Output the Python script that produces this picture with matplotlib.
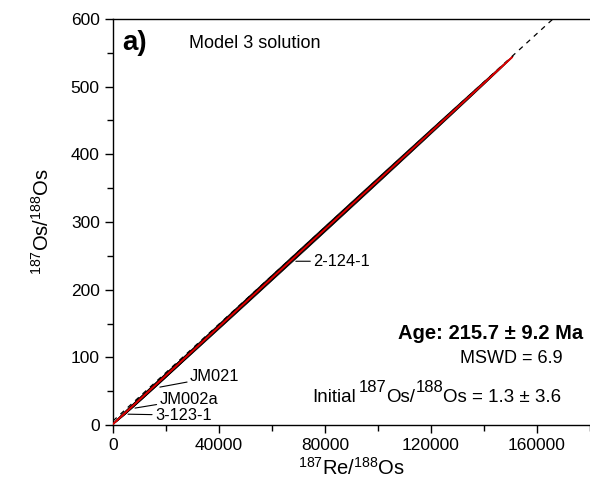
import numpy as np
import matplotlib
matplotlib.use("Agg")
import matplotlib.pyplot as plt
from matplotlib.patches import Polygon
from matplotlib.ticker import MultipleLocator
from matplotlib.transforms import IdentityTransform

plt.rcParams['font.family'] = ['Liberation Sans', 'DejaVu Sans']
plt.rcParams['mathtext.fontset'] = 'custom'
plt.rcParams['mathtext.rm'] = 'Liberation Sans'
plt.rcParams['mathtext.it'] = 'Liberation Sans:italic'
plt.rcParams['mathtext.bf'] = 'Liberation Sans:bold'

# Sample data: 187Re/188Os, 187Os/188Os with 2-sigma errors and error correlation
samples = ["3-123-1", "JM002a", "JM021", "2-124-1"]
re_os = [5300, 9000, 17700, 75500]
re_os_err = [5000, 8500, 16500, 75500]
os_os = [20.4, 33.7, 65.0, 273.1]
os_os_err = [18.1, 30.7, 59.5, 271.9]
rho = [0.995, 0.997, 0.9985, 0.99988]

# Regression (Model 3)
age_ma = 215.7
intercept = 1.3
lam = 1.666e-11
slope = np.exp(lam * age_ma * 1e6) - 1.0
fit_x_max = 150500

# Dashed reference line
dash_intercept = 6.0
dash_slope = 0.003578

# Label anchor points and label positions
label_xy = [(5660, 16), (8300, 25), (17700, 56), (69000, 242)]
label_txt = [(15800, 14.5), (17500, 38), (29000, 71), (75500, 242)]

fig = plt.figure(figsize=(5.90, 4.87), dpi=100)
ax = fig.add_axes([0.1915, 0.1273, 0.8085, 0.8337])

xx = np.linspace(0, 180000, 200)
ax.plot(xx, dash_intercept + dash_slope * xx, ls=(0, (4, 4)), color='black', lw=0.9, zorder=1)

t = np.linspace(0, 2 * np.pi, 400)
for x0, sx, y0, sy, r in zip(re_os, re_os_err, os_os, os_os_err, rho):
    ex = x0 + sx * np.cos(t)
    ey = y0 + sy * (r * np.cos(t) + np.sqrt(1 - r * r) * np.sin(t))
    ax.add_patch(Polygon(np.column_stack([ex, ey]), closed=True, facecolor='black',
                         edgecolor='black', lw=0.5, zorder=2))

fx = np.array([0, fit_x_max])
ax.plot(fx, intercept + slope * fx, color='#e00000', lw=1.4, zorder=3)

for name, xy, txy in zip(samples, label_xy, label_txt):
    ax.annotate(name, xy=xy, xytext=txy, fontsize=11.8, va='center', ha='left',
                arrowprops=dict(arrowstyle='-', color='black', lw=0.8,
                                shrinkA=0, shrinkB=0))

ax.set_xlim(0, 180000)
ax.set_ylim(0, 600)
ax.xaxis.set_major_locator(MultipleLocator(40000))
ax.xaxis.set_minor_locator(MultipleLocator(20000))
ax.yaxis.set_major_locator(MultipleLocator(100))
ax.yaxis.set_minor_locator(MultipleLocator(50))
ax.tick_params(which='both', direction='out', top=False, right=False, labelsize=12.5)
ax.tick_params(which='major', length=6, width=1)
ax.tick_params(which='minor', length=4, width=1)
ax.spines['right'].set_visible(False)
for s in ['left', 'bottom', 'top']:
    ax.spines[s].set_linewidth(1.0)

ax.set_xlabel(r'$^{187}$Re/$^{188}$Os', fontsize=14.5, labelpad=3)
ax.set_ylabel(r'$^{187}$Os/$^{188}$Os', fontsize=14.5, labelpad=13)

ax.text(0.02, 0.94, 'a)', transform=ax.transAxes, fontsize=20, fontweight='bold',
        va='center', ha='left')
ax.text(0.16, 0.94, 'Model 3 solution', transform=ax.transAxes, fontsize=13,
        va='center', ha='left')
ax.text(0.985, 0.2266, 'Age: 215.7 ± 9.2 Ma', transform=ax.transAxes, fontsize=14.5,
        fontweight='bold', va='center', ha='right')
ax.text(0.835, 0.165, 'MSWD = 6.9', transform=ax.transAxes, fontsize=13,
        va='center', ha='center')

# Initial ratio line, built from pieces so the isotope numbers stay large
parts = [('Initial', 13.5, 0, 3), ('187', 12, 10, 0), ('Os/', 13.5, 0, 0),
         ('188', 12, 10, 0), ('Os = 1.3 ± 3.6', 13.5, 0, 0)]
renderer = fig.canvas.get_renderer()
x_px, base_px = 312, 487 - 402
for txt, size, rise, gap in parts:
    piece = fig.text(x_px, base_px + rise, txt, transform=IdentityTransform(),
                     fontsize=size, va='baseline', ha='left')
    x_px = piece.get_window_extent(renderer).x1 + gap

fig.savefig('out.png', dpi=100)
